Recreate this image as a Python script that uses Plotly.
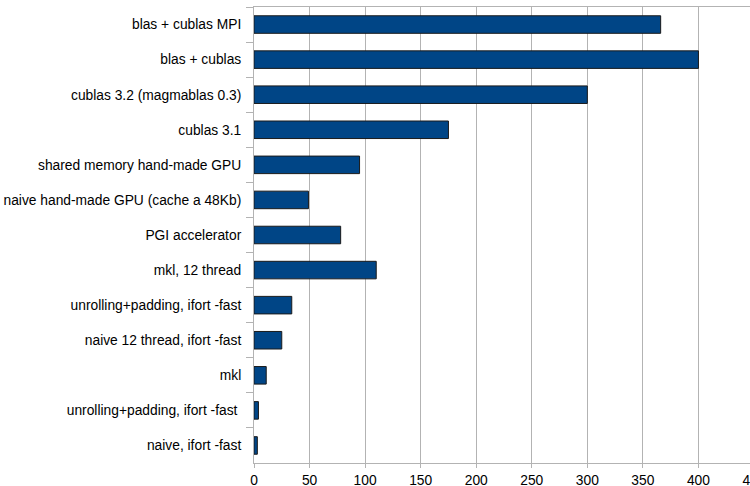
import plotly.graph_objects as go

categories = [
    "blas + cublas MPI",
    "blas + cublas",
    "cublas 3.2 (magmablas 0.3)",
    "cublas 3.1",
    "shared memory hand-made GPU",
    "naive hand-made GPU (cache a 48Kb)",
    "PGI accelerator",
    "mkl, 12 thread",
    "unrolling+padding, ifort -fast",
    "naive 12 thread, ifort -fast",
    "mkl",
    "unrolling+padding, ifort -fast ",
    "naive, ifort -fast",
]
values = [366, 400, 300, 175, 95, 49, 78, 110, 34, 25, 11, 4, 3]
x_ticks = [0, 50, 100, 150, 200, 250, 300, 350, 400, 450]
x_range = [0, 450]

grid = "#b3b3b3"
font_family = "Liberation Sans, Arial, sans-serif"

fig = go.Figure(
    go.Bar(
        x=values,
        y=categories,
        orientation="h",
        marker=dict(color="#004586", line=dict(color="#1a1a1a", width=1)),
    )
)

# the original chart is slightly wider than the visible window,
# so its last tick label ("450") is cut at the right edge
fig.update_layout(
    width=766,
    height=486,
    margin=dict(l=254, r=12, t=7, b=23),
    paper_bgcolor="white",
    plot_bgcolor="white",
    showlegend=False,
    bargap=0.5,
    font=dict(family=font_family, size=13.8, color="#000000"),
)

fig.update_xaxes(
    range=x_range,
    tickvals=x_ticks,
    showgrid=True,
    gridcolor=grid,
    gridwidth=1,
    zeroline=False,
    showline=True,
    linecolor=grid,
    linewidth=1,
    mirror=True,
    ticks="outside",
    ticklen=4,
    tickcolor=grid,
    ticklabelstandoff=0,
    ticklabeloverflow="allow",
    automargin=False,
)

fig.update_yaxes(
    type="category",
    autorange="reversed",
    showgrid=False,
    zeroline=False,
    showline=True,
    linecolor=grid,
    linewidth=1,
    ticks="outside",
    tickson="boundaries",
    ticklen=7,
    tickcolor=grid,
    ticklabelstandoff=9,
    automargin=False,
)

fig.write_html(
    "out.html",
    config={"displayModeBar": False},
    post_script="document.body.style.margin='0';document.body.style.overflow='hidden';",
)
